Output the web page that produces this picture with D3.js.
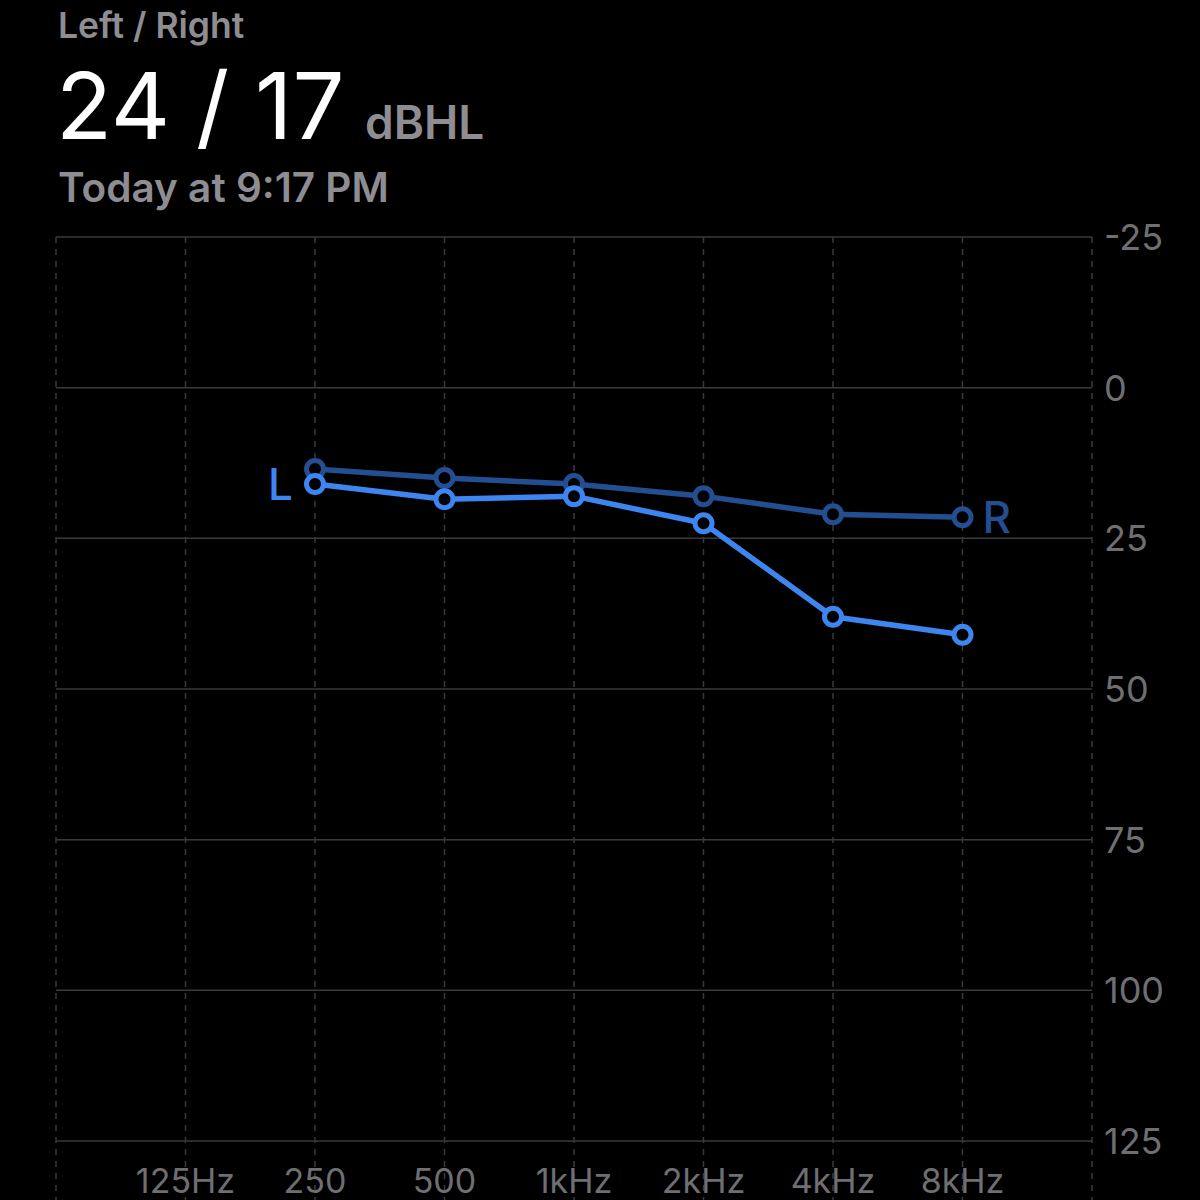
<!DOCTYPE html>
<html>
<head>
<meta charset="utf-8">
<script src="https://cdn.jsdelivr.net/npm/d3@7"></script>
<style>
html, body { margin: 0; padding: 0; background: #000; overflow: hidden; }
</style>
</head>
<body>
<svg width="1200" height="1200"></svg>
<script>
// audiogram values (dBHL)
var freqs = [250, 500, 1000, 2000, 4000, 8000]
var leftEar = [16, 18.5, 18, 22.5, 38, 41]
var rightEar = [13.5, 15, 16, 18, 21, 21.5]
var gridFreqs = [62.5, 125, 250, 500, 1000, 2000, 4000, 8000, 16000]
var freqLabels = ["125Hz", "250", "500", "1kHz", "2kHz", "4kHz", "8kHz"]
var labelFreqs = [125, 250, 500, 1000, 2000, 4000, 8000]
var dbTicks = [-25, 0, 25, 50, 75, 100, 125]

var svg = d3.select("svg")
var font = "Inter, 'Open Sans', Roboto, sans-serif"

svg.append("rect").attr("width", 1200).attr("height", 1200).attr("fill", "#000")

var x = d3.scaleLog().base(2).domain([62.5, 16000]).range([56, 1092])
var y = d3.scaleLinear().domain([-25, 125]).range([237, 1141])

// header
svg.append("text").text("Left / Right")
    .attr("x", 58).attr("y", 38)
    .attr("fill", "#8d8d92")
    .style("font", "600 35.5px " + font)
svg.append("text").text("24 / 17")
    .attr("x", 56).attr("y", 139)
    .attr("fill", "#fff")
    .style("font", "400 92px " + font)
svg.append("text").text("dBHL")
    .attr("x", 365).attr("y", 139)
    .attr("fill", "#8d8d92")
    .style("font", "600 46px " + font)
svg.append("text").text("Today at 9:17 PM")
    .attr("x", 58).attr("y", 202)
    .attr("fill", "#8d8d92")
    .style("font", "600 40.5px " + font)

// vertical dashed grid
svg.append("g").selectAll("line").data(gridFreqs).join("line")
    .attr("x1", d => x(d)).attr("x2", d => x(d))
    .attr("y1", y(-25)).attr("y2", 1200)
    .attr("stroke", "#3a3a3a").attr("stroke-width", 1.5)
    .attr("stroke-dasharray", "6,6")

// horizontal grid
svg.append("g").selectAll("line").data(dbTicks).join("line")
    .attr("x1", x(62.5)).attr("x2", x(16000))
    .attr("y1", d => y(d)).attr("y2", d => y(d))
    .attr("stroke", "#3a3a3a").attr("stroke-width", 1.5)

// y labels on the right
svg.append("g").selectAll("text").data(dbTicks).join("text")
    .text(d => d)
    .attr("x", 1104).attr("y", d => y(d))
    .attr("dy", "0.36em")
    .attr("fill", "#6f6f73")
    .style("font", "400 36px " + font)

// x labels
svg.append("g").selectAll("text").data(labelFreqs).join("text")
    .text((d, i) => freqLabels[i])
    .attr("x", d => x(d)).attr("y", 1193)
    .attr("text-anchor", "middle")
    .attr("fill", "#6f6f73")
    .style("font", "400 34px " + font)

var line = d3.line().x(d => x(d[0])).y(d => y(d[1]))

function drawEar(vals, color) {
    var pts = freqs.map((f, i) => [f, vals[i]])
    var g = svg.append("g")
    g.append("path").datum(pts)
        .attr("d", line)
        .attr("fill", "none").attr("stroke", color)
        .attr("stroke-width", 5.5).attr("stroke-linejoin", "round")
    g.selectAll("circle").data(pts).join("circle")
        .attr("cx", d => x(d[0])).attr("cy", d => y(d[1]))
        .attr("r", 8.5)
        .attr("fill", "#000").attr("stroke", color).attr("stroke-width", 5)
}

drawEar(rightEar, "#234f92")
drawEar(leftEar, "#3d86f2")

// ear labels
svg.append("text").text("L")
    .attr("x", x(250) - 22).attr("y", y(leftEar[0]))
    .attr("dy", "0.36em").attr("text-anchor", "end")
    .attr("fill", "#3d86f2")
    .style("font", "500 44px " + font)
svg.append("text").text("R")
    .attr("x", x(8000) + 20).attr("y", y(rightEar[5]))
    .attr("dy", "0.36em")
    .attr("fill", "#234f92")
    .style("font", "500 44px " + font)
</script>
</body>
</html>
